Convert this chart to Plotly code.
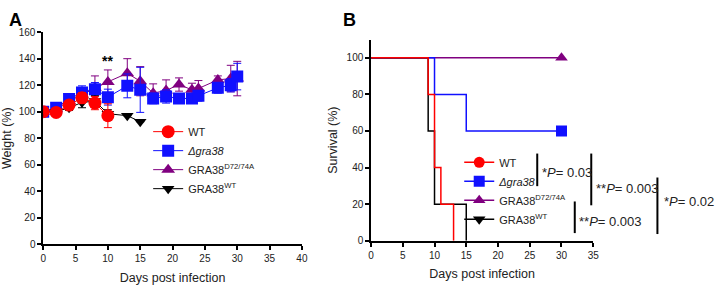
import plotly.graph_objects as go

# ---------------- Panel A data (weight) ----------------
days_wt = [0, 2, 4, 6, 8, 10]
wt_weight = [100, 99.5, 105, 110.5, 106.5, 97]
wt_err = [1.5, 1.5, 3, 4, 5, 9]

days_ko = [0, 2, 4, 6, 8, 10, 13, 15, 17, 19, 21, 23, 24, 27, 29, 30]
ko_weight = [100, 103, 109.5, 114.5, 117, 111, 119.5, 116.5, 110, 111.5, 110, 110, 112, 118, 120, 126.5]
ko_err = [2, 3, 3, 5, 5, 6, 9, 17, 4, 5, 3, 3, 4, 4, 5, 10]

days_mut = [0, 2, 4, 6, 8, 10, 13, 15, 17, 19, 21, 23, 24, 27, 29, 30]
mut_weight = [100, 102, 108, 113, 118, 122.5, 129, 123, 114, 116, 120.5, 116.5, 117.5, 124, 125, 125]
mut_err = [1, 2, 3, 4, 9, 9, 11, 11, 7, 8, 5, 5, 6, 3, 10, 13]

days_comp = [0, 2, 4, 6, 8, 10, 13, 15]
comp_weight = [100, 100, 103, 107, 108, 98.5, 97, 92.5]
comp_err = [1, 1, 2, 4, 4, 3, 0, 0]

# ---------------- Panel B data (survival) ----------------
surv_wt_x = [0, 9, 10, 11, 13]
surv_wt_y = [100, 80, 40, 20, 0]
surv_ko_x = [0, 10, 15, 30]
surv_ko_y = [100, 80, 60, 60]
surv_mut_x = [0, 30]
surv_mut_y = [100, 100]
surv_comp_x = [0, 9, 10, 15]
surv_comp_y = [100, 60, 20, 0]

names = ["WT", "<i>Δgra38</i>", "GRA38<sup>D72/74A</sup>", "GRA38<sup>WT</sup>"]
RED, BLUE, PURPLE, BLACK = "#ff0000", "#1010ff", "#800080", "#000000"

FONT = "Arial, Liberation Sans, sans-serif"
fig = go.Figure()

def wtrace(x, y, e, name, color, symbol, size, rank):
    return go.Scatter(
        x=x, y=y, name=name, mode="lines+markers",
        line=dict(color=color, width=1),
        marker=dict(color=color, symbol=symbol, size=size),
        error_y=dict(type="data", array=e, visible=True, color=color, thickness=1, width=4),
        xaxis="x", yaxis="y", legend="legend", legendrank=rank,
    )

fig.add_trace(wtrace(days_mut, mut_weight, mut_err, names[2], PURPLE, "triangle-up", 12, 3))
fig.add_trace(wtrace(days_ko, ko_weight, ko_err, names[1], BLUE, "square", 12, 2))
fig.add_trace(wtrace(days_comp, comp_weight, comp_err, names[3], BLACK, "triangle-down", 11, 4))
fig.add_trace(wtrace(days_wt, wt_weight, wt_err, names[0], RED, "circle", 13, 1))

def strace(x, y, name, color, symbol, rank, end_marker):
    sel = [len(x) - 1] if end_marker else []
    return go.Scatter(
        x=x, y=y, name=name, mode="lines+markers", line_shape="hv",
        line=dict(color=color, width=1.5),
        marker=dict(color=color, symbol=symbol, size=11),
        selectedpoints=sel,
        selected=dict(marker=dict(opacity=1)),
        unselected=dict(marker=dict(opacity=0)),
        xaxis="x2", yaxis="y2", legend="legend2", legendrank=rank, cliponaxis=False,
    )

fig.add_trace(strace(surv_mut_x, surv_mut_y, names[2], PURPLE, "triangle-up", 3, True))
fig.add_trace(strace(surv_ko_x, surv_ko_y, names[1], BLUE, "square", 2, True))
fig.add_trace(strace(surv_comp_x, surv_comp_y, names[3], BLACK, "triangle-down", 4, False))
fig.add_trace(strace(surv_wt_x, surv_wt_y, names[0], RED, "circle", 1, False))

W, H = 720, 287
def px(x): return x / W
def py(y): return 1 - y / H

axis_common = dict(
    showline=True, linecolor="black", linewidth=1.5, ticks="outside", ticklen=4,
    tickwidth=1.5, tickcolor="black", showgrid=False, zeroline=False,
    tickfont=dict(family=FONT, size=10, color="#222"),
)

fig.update_layout(
    width=W, height=H, margin=dict(l=0, r=0, t=0, b=0),
    paper_bgcolor="white", plot_bgcolor="white",
    font=dict(family=FONT, color="#222"),
    xaxis=dict(domain=[px(40.7), px(302.7)], range=[0, 40], dtick=5, anchor="y",
               title=dict(text="Days post infection", font=dict(size=12.5), standoff=10), **axis_common),
    yaxis=dict(domain=[py(248.7), py(27.3)], range=[0, 160], dtick=20, anchor="x",
               title=dict(text="Weight (%)", font=dict(size=12.5), standoff=7), **axis_common),
    xaxis2=dict(domain=[px(372.7), px(597.7)], range=[0, 35], dtick=5, anchor="y2",
                title=dict(text="Days post infection", font=dict(size=12.5), standoff=10), **axis_common),
    yaxis2=dict(domain=[py(245), py(35)], range=[0, 110], tickvals=[0, 20, 40, 60, 80, 100], anchor="x2",
                title=dict(text="Survival (%)", font=dict(size=12.5), standoff=6), **axis_common),
    legend=dict(x=px(147), y=py(116), xanchor="left", yanchor="top", bgcolor="rgba(0,0,0,0)",
                font=dict(family=FONT, size=11, color="#222"), itemsizing="trace", tracegroupgap=0),
    legend2=dict(x=px(462), y=py(148), xanchor="left", yanchor="top", bgcolor="rgba(0,0,0,0)",
                 font=dict(family=FONT, size=11, color="#222"), itemsizing="trace", tracegroupgap=0),
    showlegend=True,
)

ann = [
    dict(text="<b>A</b>", x=px(4), y=py(15), xanchor="left", yanchor="middle", font=dict(size=18, color="black")),
    dict(text="<b>B</b>", x=px(342), y=py(15), xanchor="left", yanchor="middle", font=dict(size=18, color="black")),
    dict(text="<b>**</b>", x=10, y=138, xref="x", yref="y", showarrow=False, font=dict(size=14, color="black")),
    dict(text="*<i>P</i>= 0.03", x=px(544), y=py(174), xanchor="left", yanchor="middle", font=dict(size=13)),
    dict(text="**<i>P</i>= 0.003", x=px(598), y=py(190), xanchor="left", yanchor="middle", font=dict(size=13)),
    dict(text="*<i>P</i>= 0.02", x=px(667), y=py(204), xanchor="left", yanchor="middle", font=dict(size=13)),
    dict(text="**<i>P</i>= 0.003", x=px(581), y=py(225), xanchor="left", yanchor="middle", font=dict(size=13)),
]
for a in ann:
    a.setdefault("xref", "paper"); a.setdefault("yref", "paper"); a.setdefault("showarrow", False)
    fig.add_annotation(**a)

for (x, y0, y1) in [(541, 154, 188), (595.7, 154, 208), (662.7, 179, 238), (579, 204, 237)]:
    fig.add_shape(type="line", xref="paper", yref="paper", x0=px(x), x1=px(x), y0=py(y0), y1=py(y1),
                  line=dict(color="black", width=2))

fig.write_html("out.html")
